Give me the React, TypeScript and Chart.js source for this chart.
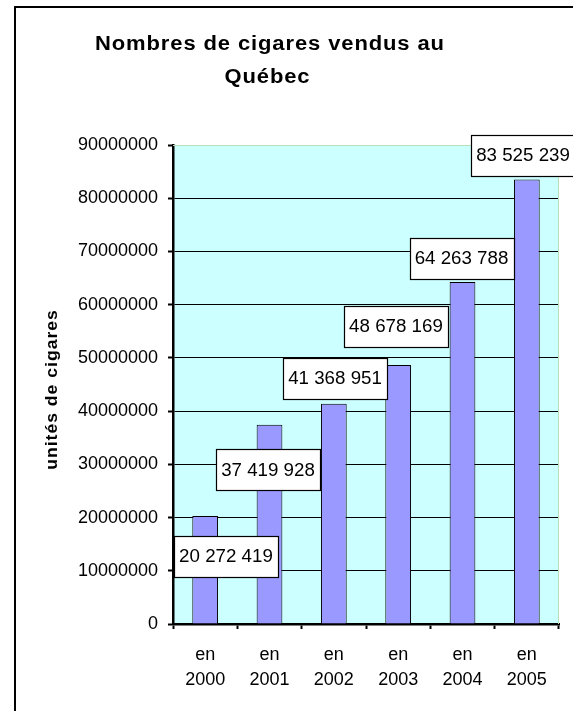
import React, { useEffect, useRef } from 'react';
import { Chart, registerables } from 'chart.js';

Chart.register(...registerables);

// ---- data ----
const years = ['2000', '2001', '2002', '2003', '2004', '2005'];
const categoryPrefix = 'en';
const cigarsSold = [20272419, 37419928, 41368951, 48678169, 64263788, 83525239];
const yMin = 0;
const yMax = 90000000;
const yStep = 10000000;
const titleLines = ['Nombres de cigares vendus au', 'Québec'];
const yAxisTitle = 'unités de cigares';

// ---- layout / style (label box offsets from each bar's top centre) ----
const labelOffsets: [number, number][] = [
  [20.8, 40.4],
  [-1.5, 44.7],
  [1.2, -25.3],
  [-2.2, -38.4],
  [-1, -23.5],
  [-3.8, -24],
];

const FONT = '"Liberation Sans", Arial, Helvetica, sans-serif';

const fmt = (v: number) => String(v).replace(/\B(?=(\d{3})+(?!\d))/g, ' ');

function wideText(ctx: any, text: string, x: number, y: number, sx: number, spacing: number) {
  ctx.save();
  ctx.translate(x, y);
  ctx.scale(sx, 1);
  ctx.letterSpacing = `${spacing}px`;
  const w = ctx.measureText(text).width - spacing;
  ctx.textAlign = 'left';
  ctx.fillText(text, -w / 2, 0);
  ctx.restore();
}

const decor = {
  id: 'decor',
  beforeDraw(chart: any) {
    const { ctx, chartArea: a } = chart;
    ctx.save();
    ctx.fillStyle = '#ffffff';
    ctx.fillRect(0, 0, chart.width, chart.height);
    ctx.fillStyle = '#CCFFFF';
    ctx.fillRect(a.left, a.top, a.right - a.left, a.bottom - a.top);
    ctx.restore();
  },
  afterDraw(chart: any) {
    const { ctx, chartArea: a } = chart;
    ctx.save();
    // plot area border (top / right)
    ctx.strokeStyle = '#b8e0b8';
    ctx.lineWidth = 1;
    ctx.beginPath();
    ctx.moveTo(a.left, a.top + 0.5);
    ctx.lineTo(a.right - 0.5, a.top + 0.5);
    ctx.lineTo(a.right - 0.5, a.bottom);
    ctx.stroke();

    // data labels
    const meta = chart.getDatasetMeta(0);
    const vals = chart.data.datasets[0].data as number[];
    ctx.font = `18px ${FONT}`;
    ctx.textBaseline = 'middle';
    meta.data.forEach((bar: any, i: number) => {
      const [dx, dy] = labelOffsets[i];
      const cx = bar.x + dx;
      const cy = bar.y + dy;
      const w = 104;
      const h = 41;
      const x0 = Math.round(cx - w / 2) + 0.5;
      const y0 = Math.round(cy - h / 2) + 0.5;
      ctx.fillStyle = '#ffffff';
      ctx.fillRect(x0, y0, w, h);
      ctx.strokeStyle = '#000000';
      ctx.lineWidth = 1.2;
      ctx.strokeRect(x0, y0, w, h);
      ctx.fillStyle = '#000000';
      wideText(ctx, fmt(vals[i]), cx, cy + 1, 1.04, 0);
    });

    // title
    ctx.fillStyle = '#000000';
    ctx.font = `bold 20px ${FONT}`;
    ctx.textBaseline = 'alphabetic';
    wideText(ctx, titleLines[0], 269.5, 50, 1.1, 0.8);
    wideText(ctx, titleLines[1], 267, 83, 1.1, 0.8);

    // y axis title
    ctx.save();
    ctx.translate(53, 390);
    ctx.rotate(-Math.PI / 2);
    ctx.font = `bold 16px ${FONT}`;
    ctx.textBaseline = 'middle';
    wideText(ctx, yAxisTitle, 0, 0, 1.1, 0.9);
    ctx.restore();

    // outer frame (top and left visible)
    ctx.strokeStyle = '#000000';
    ctx.lineWidth = 2;
    ctx.beginPath();
    ctx.moveTo(15, chart.height + 5);
    ctx.lineTo(15, 7);
    ctx.lineTo(chart.width + 5, 7);
    ctx.stroke();
    ctx.restore();
  },
};

export default function App() {
  const ref = useRef<HTMLCanvasElement | null>(null);

  useEffect(() => {
    if (!ref.current) return;
    const chart = new Chart(ref.current, {
      type: 'bar',
      data: {
        labels: years.map((y) => [categoryPrefix, y]),
        datasets: [
          {
            data: cigarsSold,
            backgroundColor: '#9999FF',
            borderColor: '#000000',
            borderWidth: 1,
            barPercentage: 0.4,
            categoryPercentage: 1,
          },
        ],
      },
      options: {
        animation: false,
        responsive: false,
        devicePixelRatio: 1,
        layout: { padding: { top: 145, right: 14, left: 0, bottom: 0 } },
        plugins: {
          legend: { display: false },
          tooltip: { enabled: false },
          title: { display: false },
        },
        scales: {
          x: {
            grid: {
              drawOnChartArea: false,
              drawTicks: true,
              tickLength: 5,
              tickWidth: 2,
              tickColor: '#000000',
              color: '#000000',
              offset: true,
            },
            border: { color: '#000000', width: 2.5 },
            ticks: {
              color: '#000000',
              font: { family: FONT, size: 18, lineHeight: 1.4 },
              padding: 13,
              maxRotation: 0,
              autoSkip: false,
            },
            afterFit(s: any) {
              s.height = 87;
            },
          },
          y: {
            min: yMin,
            max: yMax,
            ticks: {
              stepSize: yStep,
              color: '#000000',
              font: { family: FONT, size: 18 },
              padding: 10,
              callback: (v: any) => String(v),
            },
            grid: {
              color: (c: any) => (c.tick && c.tick.value === yMax ? 'rgba(0,0,0,0)' : '#000000'),
              lineWidth: 1,
              tickLength: 5,
              tickWidth: 2,
              tickColor: '#000000',
            },
            border: { color: '#000000', width: 2.5 },
            afterFit(s: any) {
              s.width = 173;
            },
          },
        },
      },
      plugins: [decor],
    } as any);
    return () => chart.destroy();
  }, []);

  return (
    <div style={{ position: 'absolute', left: 0, top: 0, width: 573, height: 711 }}>
      <canvas ref={ref} width={573} height={711} style={{ display: 'block' }} />
    </div>
  );
}
